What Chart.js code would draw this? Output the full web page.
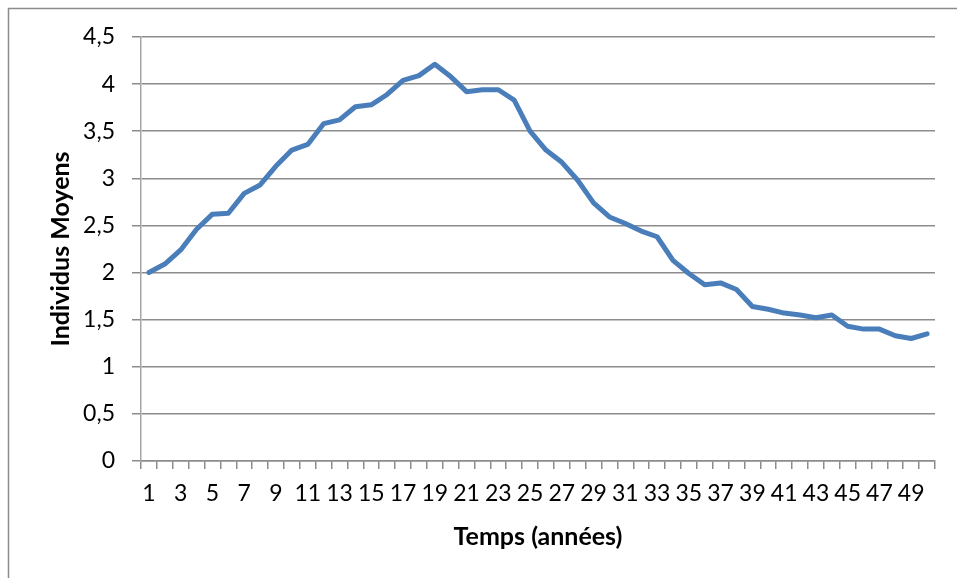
<!DOCTYPE html>
<html>
<head>
<meta charset="utf-8">
<script src="https://cdn.jsdelivr.net/npm/chart.js@4/dist/chart.umd.min.js"></script>
<style>
  html, body { margin: 0; padding: 0; background: #fff; }
  #wrap { position: relative; width: 957px; height: 578px; }
</style>
</head>
<body>
<div id="wrap"><canvas id="chart" width="957" height="578"></canvas></div>
<script>
// Années 1..50
const years = Array.from({ length: 50 }, (_, i) => String(i + 1));

// Nombre moyen d'individus par année
const individus = [
  2.00, 2.09, 2.24, 2.46, 2.62, 2.63, 2.84, 2.93, 3.13, 3.30,
  3.36, 3.58, 3.62, 3.76, 3.78, 3.89, 4.04, 4.09, 4.21, 4.08,
  3.92, 3.94, 3.94, 3.83, 3.50, 3.30, 3.17, 2.98, 2.74, 2.59,
  2.52, 2.44, 2.38, 2.13, 1.99, 1.87, 1.89, 1.82, 1.64, 1.61,
  1.57, 1.55, 1.52, 1.55, 1.43, 1.40, 1.40, 1.33, 1.30, 1.35
];

const yTicks = [0, 0.5, 1, 1.5, 2, 2.5, 3, 3.5, 4, 4.5];

const FONT = "Lato, 'Open Sans', sans-serif";

// thin frame around the whole chart object
const frame = {
  id: 'frame',
  beforeDraw(chart) {
    const ctx = chart.ctx;
    ctx.save();
    ctx.strokeStyle = '#8c8c8c';
    ctx.lineWidth = 1.5;
    ctx.strokeRect(8.5, 8.5, 1000, 1000);
    ctx.restore();
  }
};

new Chart(document.getElementById('chart'), {
  type: 'line',
  data: {
    labels: years,
    datasets: [{
      data: individus,
      borderColor: '#4a7ebb',
      borderWidth: 5,
      pointRadius: 0,
      tension: 0,
      borderJoinStyle: 'round',
      borderCapStyle: 'round'
    }]
  },
  options: {
    responsive: false,
    animation: false,
    layout: { padding: { left: 0, top: 37, right: 22, bottom: 0 } },
    plugins: { legend: { display: false }, tooltip: { enabled: false } },
    scales: {
      x: {
        offset: true,
        grid: {
          offset: true,
          drawOnChartArea: false,
          drawTicks: true,
          tickLength: 8,
          color: '#8c8c8c',
          lineWidth: 1.5
        },
        border: { color: '#8c8c8c', width: 1.5 },
        ticks: {
          autoSkip: false,
          maxRotation: 0,
          padding: 11,
          color: '#000',
          font: { family: FONT, size: 23 },
          callback(value, index) {
            return index % 2 === 0 ? this.getLabelForValue(value) : '';
          }
        },
        title: {
          display: true,
          text: 'Temps (années)',
          color: '#000',
          font: { family: FONT, size: 25, weight: 'bold' },
          padding: { top: 0, bottom: 26 }
        },
        afterFit(scale) { scale.height = 117; }
      },
      y: {
        min: 0,
        max: 4.5,
        afterBuildTicks(scale) {
          scale.ticks = yTicks.map(v => ({ value: v }));
        },
        grid: {
          color: '#8c8c8c',
          lineWidth: 1.5,
          tickLength: 9
        },
        border: { color: '#a6a6a6', width: 1.5 },
        ticks: {
          padding: 17,
          color: '#000',
          font: { family: FONT, size: 23 },
          callback: v => String(v).replace('.', ',')
        },
        title: {
          display: true,
          text: 'Individus Moyens',
          color: '#000',
          font: { family: FONT, size: 25, weight: 'bold' },
          padding: { top: 46, bottom: 0 }
        },
        afterFit(scale) { scale.width = 141; }
      }
    }
  },
  plugins: [frame]
});
</script>
</body>
</html>
